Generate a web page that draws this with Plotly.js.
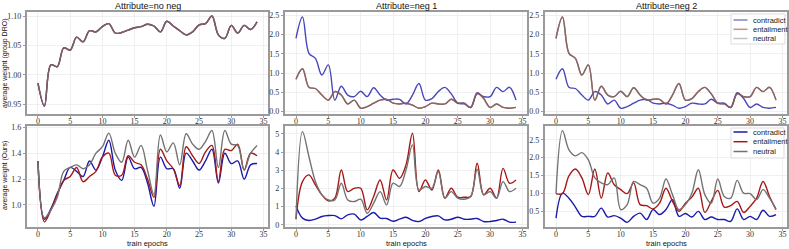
<!DOCTYPE html>
<html>
<head>
<meta charset="utf-8">
<script src="https://cdn.plot.ly/plotly-3.0.1.min.js"></script>
<style>html,body{margin:0;padding:0;background:#fff;}#chart{width:789px;height:249px;}</style>
</head>
<body>
<div id="chart"></div>
<script>
// ---- data ----
const epochs = [0,1,2,3,4,5,6,7,8,9,10,11,12,13,14,15,16,17,18,19,20,21,22,23,24,25,26,27,28,29,30,31,32,33,34];
const classNames = ["contradict", "entailment", "neutral"];
const panelTitles = ["Attribute=no neg", "Attribute=neg 1", "Attribute=neg 2"];

// group DRO, Attribute=no neg (all three classes identical)
const droNoNeg = [0.986,0.947,1.017,1.014,1.046,1.042,1.064,1.056,1.075,1.073,1.082,1.087,1.071,1.072,1.076,1.080,1.082,1.086,1.083,1.073,1.091,1.083,1.075,1.068,1.073,1.085,1.087,1.100,1.068,1.062,1.084,1.071,1.084,1.077,1.090];
// group DRO, neg 1
const droNeg1Contradict = [1.90,2.45,1.51,1.38,0.95,1.21,0.30,0.66,0.43,0.39,0.53,0.39,0.62,0.43,0.30,0.32,0.32,0.20,0.43,0.73,0.30,0.34,0.52,0.63,0.46,0.22,0.20,0.11,0.46,0.39,0.39,0.63,0.52,0.63,0.30];
const droNeg1Other = [0.84,1.11,0.63,0.60,0.43,0.30,0.52,0.43,0.20,0.30,0.09,0.13,0.22,0.30,0.32,0.22,0.20,0.22,0.17,0.09,0.13,0.22,0.20,0.20,0.32,0.22,0.22,0.11,0.49,0.34,0.11,0.20,0.11,0.09,0.11];
// group DRO, neg 2
const droNeg2Contradict = [0.84,1.11,0.63,0.60,0.43,0.30,0.52,0.43,0.20,0.30,0.09,0.13,0.22,0.30,0.32,0.22,0.20,0.22,0.17,0.09,0.13,0.22,0.20,0.20,0.32,0.22,0.22,0.11,0.49,0.34,0.11,0.20,0.11,0.09,0.11];
const droNeg2Other = [1.90,2.45,1.51,1.38,0.95,1.21,0.30,0.66,0.43,0.39,0.53,0.39,0.62,0.43,0.30,0.32,0.32,0.20,0.43,0.73,0.30,0.34,0.52,0.63,0.46,0.22,0.20,0.11,0.46,0.39,0.39,0.63,0.52,0.63,0.30];

// Ours, no neg
const oursNoNegContradict = [1.34,0.89,0.97,1.09,1.19,1.29,1.26,1.22,1.34,1.27,1.37,1.50,1.27,1.19,1.37,1.28,1.29,1.17,0.99,1.37,1.28,1.28,1.13,1.40,1.34,1.27,1.34,1.43,1.17,1.40,1.32,1.34,1.20,1.31,1.32];
const oursNoNegEntailment = [1.34,0.87,0.96,1.08,1.19,1.22,1.29,1.18,1.22,1.26,1.37,1.40,1.23,1.23,1.38,1.33,1.31,1.20,1.06,1.43,1.34,1.28,1.15,1.45,1.38,1.32,1.41,1.46,1.18,1.43,1.42,1.47,1.27,1.40,1.38];
const oursNoNegNeutral = [1.34,0.90,0.96,1.06,1.26,1.29,1.31,1.28,1.31,1.40,1.45,1.555,1.40,1.33,1.50,1.37,1.46,1.27,1.08,1.54,1.41,1.48,1.31,1.55,1.47,1.43,1.49,1.575,1.29,1.575,1.47,1.46,1.27,1.40,1.46];
// Ours, neg 1
const oursNeg1Contradict = [1.04,0.37,0.24,0.31,0.46,0.51,0.51,0.33,0.55,0.59,0.27,0.46,0.68,0.37,0.35,0.20,0.31,0.42,0.24,0.18,0.35,0.46,0.49,0.27,0.31,0.42,0.31,0.31,0.35,0.18,0.18,0.24,0.31,0.15,0.15];
const oursNeg1Entailment = [0.31,2.38,2.75,2.20,1.65,1.32,1.47,3.02,1.83,2.01,2.01,0.82,1.56,2.47,1.37,3.02,2.56,3.30,5.04,1.83,2.47,1.92,3.02,1.47,2.01,1.52,1.52,1.56,3.39,1.65,2.01,1.47,3.11,2.29,2.47];
const oursNeg1Neutral = [0.31,5.13,3.75,2.38,1.65,1.37,1.37,2.29,1.37,1.28,1.41,0.64,1.19,1.83,1.10,2.29,2.11,3.02,4.40,1.92,2.11,2.01,2.93,1.47,1.83,1.47,1.41,1.56,3.06,1.65,1.83,1.47,2.38,1.83,2.01];
// Ours, neg 2
const oursNeg2Contradict = [0.30,1.00,0.86,0.61,0.35,0.35,0.35,0.58,0.33,0.37,0.30,0.18,0.35,0.44,0.26,0.54,0.40,0.54,0.82,0.35,0.43,0.33,0.49,0.26,0.33,0.26,0.26,0.21,0.56,0.26,0.35,0.26,0.52,0.35,0.40];
const oursNeg2Entailment = [0.99,0.99,1.49,1.68,1.43,0.96,1.68,0.86,1.57,1.24,1.10,0.99,1.29,0.68,0.65,0.56,0.72,1.14,0.77,0.49,0.72,0.89,1.14,0.46,0.77,1.08,0.61,0.65,0.77,0.46,0.63,0.86,1.33,0.91,0.54];
const oursNeg2Neutral = [0.99,2.76,2.22,2.05,2.14,1.94,1.43,1.29,1.24,1.43,0.54,0.68,1.33,1.24,1.14,0.72,0.86,1.40,0.96,0.54,0.68,1.00,1.66,0.96,0.72,1.40,0.91,0.86,1.36,1.00,0.99,0.82,1.10,0.86,0.56];

const xTicks = [0,5,10,15,20,25,30,35];

// ---- styles ----
const colorsSolid = ["rgb(26,26,170)", "rgb(166,24,24)", "rgb(115,115,115)"];
const colorsFaded = ["rgba(26,26,170,0.8)", "rgba(166,24,24,0.8)", "rgba(115,115,115,0.8)"];
const colorsLegendFaded = ["rgba(26,26,170,0.55)", "rgba(166,24,24,0.5)", "rgba(115,115,115,0.45)"];

const panels = [
  {x:"x",  y:"y",  series:[droNoNeg, droNoNeg, droNoNeg], faded:true},
  {x:"x2", y:"y2", series:[droNeg1Contradict, droNeg1Other, droNeg1Other], faded:true},
  {x:"x3", y:"y3", series:[droNeg2Contradict, droNeg2Other, droNeg2Other], faded:true},
  {x:"x4", y:"y4", series:[oursNoNegContradict, oursNoNegEntailment, oursNoNegNeutral], faded:false},
  {x:"x5", y:"y5", series:[oursNeg1Contradict, oursNeg1Entailment, oursNeg1Neutral], faded:false},
  {x:"x6", y:"y6", series:[oursNeg2Contradict, oursNeg2Entailment, oursNeg2Neutral], faded:false}
];

const traces = [];
panels.forEach(p => {
  p.series.forEach((vals, i) => {
    traces.push({
      x: epochs, y: vals, xaxis: p.x, yaxis: p.y, type: "scatter", mode: "lines",
      name: classNames[i], showlegend: false,
      line: {color: p.faded ? colorsFaded[i] : colorsSolid[i], width: 1.4, shape: "spline", smoothing: 1}
    });
  });
});

const W = 789, H = 249;
const colPx = [[27,268],[285,527],[545,787]];
const rowPx = [[12,114],[126,227]];
const tickFont = {family: "Liberation Serif, DejaVu Serif, serif", size: 8, color: "#333"};

function xa(col, anchor) {
  return {
    domain: [colPx[col][0]/W, colPx[col][1]/W],
    range: [-1.7, 35.7], tickvals: xTicks, anchor: anchor,
    showline: true, mirror: true, linecolor: "#9a9a9a", linewidth: 1.6,
    showgrid: true, gridcolor: "#ececec", gridwidth: 0.8, zeroline: false,
    ticks: "outside", ticklen: 2.5, tickcolor: "#9a9a9a", tickfont: tickFont,
    ticklabelstandoff: -4
  };
}
function ya(row, anchor, range, tickvals, fmt) {
  return {
    domain: [1 - rowPx[row][1]/H, 1 - rowPx[row][0]/H],
    range: range, tickvals: tickvals, tickformat: fmt, anchor: anchor,
    showline: true, mirror: true, linecolor: "#9a9a9a", linewidth: 1.6,
    showgrid: true, gridcolor: "#ececec", gridwidth: 0.8, zeroline: false,
    ticks: "outside", ticklen: 2.5, tickcolor: "#9a9a9a", tickfont: tickFont
  };
}

const sans = "Liberation Sans, Arial, sans-serif";
const annotations = [];
const shapes = [];
panelTitles.forEach((t, c) => {
  annotations.push({text: t, xref: "paper", yref: "paper",
    x: (colPx[c][0] + colPx[c][1]) / 2 / W, y: 1 - 6/H, xanchor: "center", yanchor: "middle",
    showarrow: false, font: {family: sans, size: 9, color: "#111"}});
  annotations.push({text: "train epochs", xref: "paper", yref: "paper",
    x: (colPx[c][0] + colPx[c][1]) / 2 / W, y: 1 - 243/H, xanchor: "center", yanchor: "middle",
    showarrow: false, font: {family: sans, size: 7.5, color: "#111"}});
});
annotations.push({text: "average weight (group DRO)", xref: "paper", yref: "paper", textangle: -90,
  x: 5/W, y: 1 - 63/H, xanchor: "center", yanchor: "middle", showarrow: false,
  font: {family: sans, size: 7, color: "#111"}});
annotations.push({text: "average weight (Ours)", xref: "paper", yref: "paper", textangle: -90,
  x: 5/W, y: 1 - 176/H, xanchor: "center", yanchor: "middle", showarrow: false,
  font: {family: sans, size: 7, color: "#111"}});

// legends (drawn as boxes, handle lines and labels)
function addLegend(box, rows, colors) {
  shapes.push({type: "rect", xref: "paper", yref: "paper", layer: "above",
    x0: box[0]/W, x1: box[1]/W, y0: 1 - box[3]/H, y1: 1 - box[2]/H,
    line: {color: "#d4d4d4", width: 0.8}, fillcolor: "rgba(255,255,255,0.9)"});
  classNames.forEach((n, i) => {
    const yy = 1 - rows[i]/H;
    shapes.push({type: "line", xref: "paper", yref: "paper", layer: "above",
      x0: (box[0] + 2.5)/W, x1: (box[0] + 16.5)/W, y0: yy, y1: yy,
      line: {color: colors[i], width: 1.5}});
    annotations.push({text: n, xref: "paper", yref: "paper", x: (box[0] + 19.5)/W, y: yy,
      xanchor: "left", yanchor: "middle", showarrow: false,
      font: {family: sans, size: 7.5, color: "#222"}});
  });
}
addLegend([731, 785, 14, 44], [20, 29.3, 38.5], colorsLegendFaded);
addLegend([731, 784, 128, 158], [132, 141.7, 151.5], colorsSolid);

const layout = {
  width: W, height: H, margin: {l: 0, r: 0, t: 0, b: 0},
  paper_bgcolor: "#fff", plot_bgcolor: "#fff", showlegend: false,
  xaxis: xa(0, "y"), xaxis2: xa(1, "y2"), xaxis3: xa(2, "y3"),
  xaxis4: xa(0, "y4"), xaxis5: xa(1, "y5"), xaxis6: xa(2, "y6"),
  yaxis:  ya(0, "x",  [0.9335, 1.1068], [0.95, 1.00, 1.05, 1.10], ".2f"),
  yaxis2: ya(0, "x2", [-0.06, 2.58], [0, 0.5, 1.0, 1.5, 2.0, 2.5], ".1f"),
  yaxis3: ya(0, "x3", [-0.06, 2.58], [0, 0.5, 1.0, 1.5, 2.0, 2.5], ".1f"),
  yaxis4: ya(1, "x4", [0.83, 1.61], [1.0, 1.2, 1.4, 1.6], ".1f"),
  yaxis5: ya(1, "x5", [-0.12, 5.44], [0, 1, 2, 3, 4, 5], "d"),
  yaxis6: ya(1, "x6", [0.05, 2.89], [0.5, 1.0, 1.5, 2.0, 2.5], ".1f"),
  annotations: annotations,
  shapes: shapes
};

Plotly.newPlot("chart", traces, layout, {staticPlot: true, displayModeBar: false});
</script>
</body>
</html>
